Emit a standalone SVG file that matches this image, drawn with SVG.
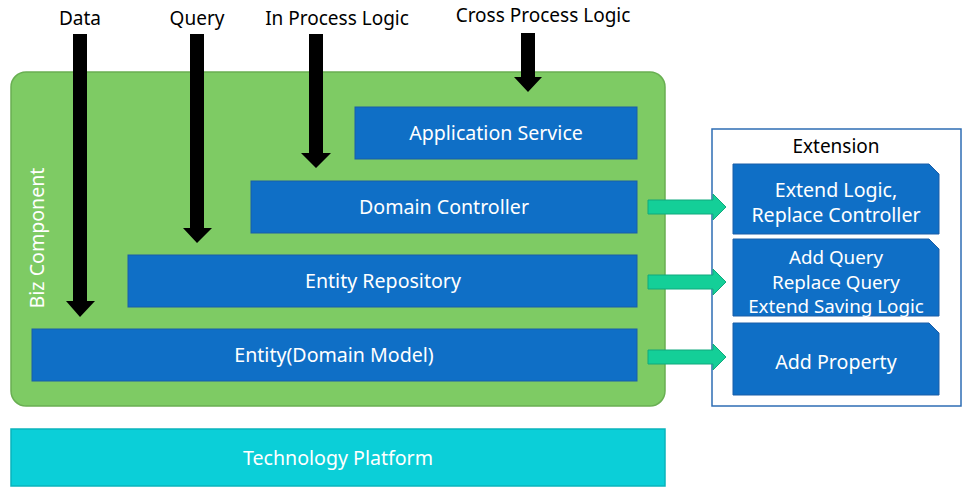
<svg xmlns="http://www.w3.org/2000/svg" width="970" height="497" viewBox="0 0 970 497">
<style>
.lbl{font-family:"Noto Sans","Open Sans",sans-serif;font-size:19px;fill:#000;text-anchor:middle}
.wt{font-family:"Noto Sans","Open Sans",sans-serif;font-size:19.6px;fill:#fff;text-anchor:middle}
.wts{font-family:"Noto Sans","Open Sans",sans-serif;font-size:18.8px;fill:#fff;text-anchor:middle}
.blue{fill:#0F6FC6;stroke:#1A5EA8;stroke-width:1}
.garrow{fill:#14CF98;stroke:#10A97C;stroke-width:1}
.barrow{fill:#000}
</style>
<rect width="970" height="497" fill="#fff"/>
<g id="biz-component">
<rect x="11" y="72" width="654" height="334" rx="15" fill="#7ECB64" stroke="#69AF52" stroke-width="1.5"/>
<text class="wt" transform="translate(44,238) rotate(-90)">Biz Component</text>
</g>
<g id="tech-platform">
<rect x="11" y="429" width="654" height="57" fill="#0BCFD8" stroke="#0AB4BC" stroke-width="1.5"/>
<text class="wt" x="338" y="465">Technology Platform</text>
</g>
<g id="app-service">
<rect class="blue" x="355" y="107" width="282" height="52"/>
<text class="wt" x="496" y="140">Application Service</text>
</g>
<g id="domain-controller">
<rect class="blue" x="251" y="181" width="386" height="52"/>
<text class="wt" x="444" y="214">Domain Controller</text>
</g>
<g id="entity-repository">
<rect class="blue" x="128" y="255" width="509" height="52"/>
<text class="wt" x="383" y="288">Entity Repository</text>
</g>
<g id="entity-model">
<rect class="blue" x="32" y="329" width="605" height="52"/>
<text class="wt" x="334" y="362">Entity(Domain Model)</text>
</g>
<g id="extension">
<rect x="712" y="129" width="249" height="277" fill="#fff" stroke="#2E6DB4" stroke-width="1.5"/>
<text class="lbl" x="836" y="153">Extension</text>
</g>
<g id="ext-controller">
<path class="blue" d="M733,164 H929 L939,174 V234 H733 Z"/>
<text class="wt" x="836" y="197">Extend Logic,</text>
<text class="wt" x="836" y="222">Replace Controller</text>
</g>
<g id="ext-query">
<path class="blue" d="M733,239 H929 L939,249 V316 H733 Z"/>
<text class="wts" x="836" y="264">Add Query</text>
<text class="wts" x="836" y="288.5">Replace Query</text>
<text class="wts" x="836" y="313">Extend Saving Logic</text>
</g>
<g id="ext-property">
<path class="blue" d="M733,323 H929 L939,333 V395 H733 Z"/>
<text class="wt" x="836" y="369">Add Property</text>
</g>
<g id="labels">
<text class="lbl" x="80" y="25">Data</text>
<text class="lbl" x="197" y="25">Query</text>
<text class="lbl" x="337" y="25">In Process Logic</text>
<text class="lbl" x="543" y="22">Cross Process Logic</text>
</g>
<g id="connectors">
<path class="barrow" d="M73,34 H87 V301 H95 L80,317 L66,301 H73 Z"/>
<path class="barrow" d="M190,34 H204 V228 H212 L197,243 L183,228 H190 Z"/>
<path class="barrow" d="M309,34 H323 V153 H331 L316,168 L301,153 H309 Z"/>
<path class="barrow" d="M521,33 H535 V77 H542 L528,92 L514,77 H521 Z"/>
<path class="garrow" d="M648,200 H713 V194 L726,207 L713,220 V214 H648 Z"/>
<path class="garrow" d="M648,275 H713 V269 L726,282 L713,295 V289 H648 Z"/>
<path class="garrow" d="M648,350 H713 V344 L726,357 L713,370 V364 H648 Z"/>
</g>
</svg>
